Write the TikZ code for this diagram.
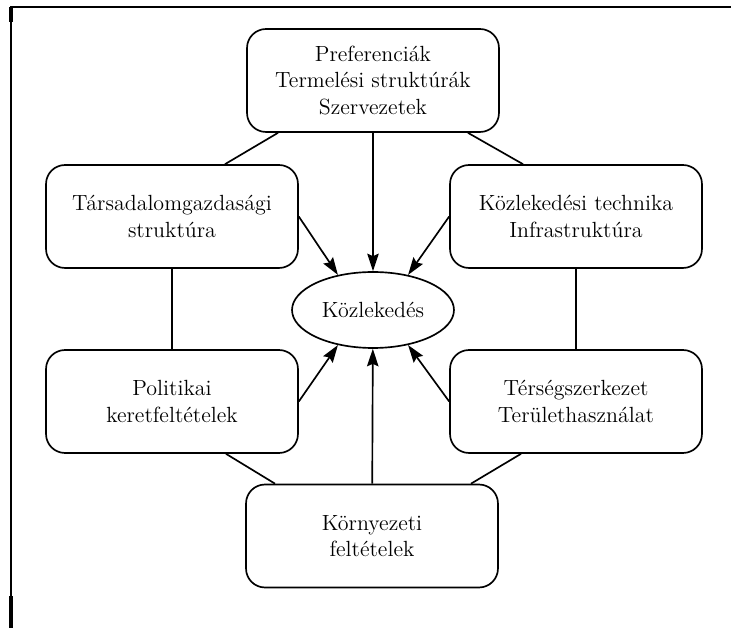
\documentclass[tikz,border=0pt]{standalone}
\usetikzlibrary{arrows.meta,shapes.geometric}

\begin{document}
\begin{tikzpicture}[x=0.02cm,y=-0.02cm,
  box/.style={draw,line width=0.95pt,rounded corners=0.38cm,align=center,
    minimum width=5.04cm,minimum height=2.06cm,inner sep=2pt,
    font=\fontsize{12.5}{15.2}\selectfont},
  hub/.style={draw,ellipse,line width=0.95pt,minimum width=3.24cm,
    minimum height=1.52cm,inner sep=0pt,font=\fontsize{12.5}{15.2}\selectfont},
  link/.style={line width=0.95pt},
  push/.style={line width=0.95pt,-{Stealth[length=0.35cm,width=0.23cm,inset=0.05cm]}}]
  \useasboundingbox (0,0) rectangle (731,628);

  % --- Frame ---
  \draw[line width=1.1pt] (10,7) -- (731,7);
  \draw[line width=1.1pt] (11,7) -- (11,628);
  \draw[line width=1.8pt] (11,7) -- (11,22);
  \draw[line width=1.8pt] (11,596) -- (11,628);

  % --- Nodes ---
  \node[hub] (kozl) at (373,310) {Közlekedés};
  \node[box] (pref) at (373,80.5) {Preferenciák\\Termelési struktúrák\\Szervezetek};
  \node[box] (tars) at (172,216.5) {Társadalomgazdasági\\struktúra};
  \node[box] (tech) at (576,216.5) {Közlekedési technika\\Infrastruktúra};
  \node[box] (pol) at (172,401.5) {Politikai\\keretfeltételek};
  \node[box] (ters) at (576,401.5) {Térségszerkezet\\Területhasználat};
  \node[box] (korny) at (372,536) {Környezeti\\feltételek};

  % --- Plain links around the ring ---
  \draw[link] ([xshift=-1.9cm]pref.south) -- ([xshift=1.06cm]tars.north);
  \draw[link] ([xshift=1.9cm]pref.south) -- ([xshift=-1.06cm]tech.north);
  \draw[link] (tars) -- (pol);
  \draw[link] (tech) -- (ters);
  \draw[link] ([xshift=1.08cm]pol.south) -- ([xshift=-1.94cm]korny.north);
  \draw[link] ([xshift=-1.1cm]ters.south) -- ([xshift=1.98cm]korny.north);

  % --- Arrows into the centre ---
  \draw[push] (pref) -- (kozl);
  \draw[push] (tars.east) -- (kozl.135);
  \draw[push] (tech.west) -- (kozl.45);
  \draw[push] (pol.east) -- (kozl.-135);
  \draw[push] (ters.west) -- (kozl.-45);
  \draw[push] (korny) -- (kozl);
\end{tikzpicture}
\end{document}
